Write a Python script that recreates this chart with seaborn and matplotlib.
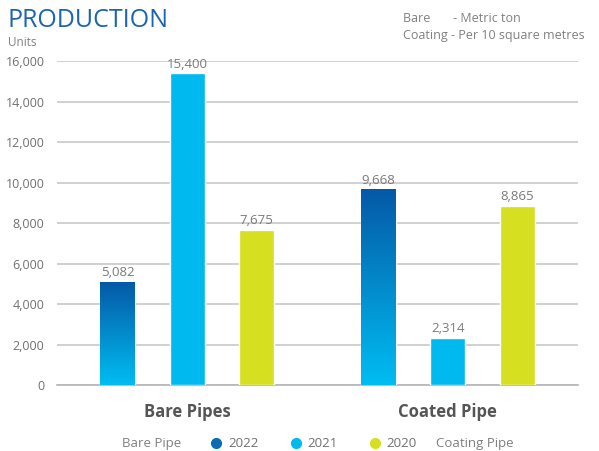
import pandas as pd
import numpy as np
import seaborn as sns
import matplotlib.pyplot as plt
from matplotlib.colors import LinearSegmentedColormap
from matplotlib.lines import Line2D
from matplotlib.ticker import FuncFormatter

products = ["Bare Pipes", "Coated Pipe"]
years = ["2022", "2021", "2020"]
bare_values = [5082, 15400, 7675]
coated_values = [9668, 2314, 8865]
year_colors = ["#0a6cb5", "#00b9ef", "#d7df21"]

df = pd.DataFrame({
    "product": [products[0]] * 3 + [products[1]] * 3,
    "year": years * 2,
    "value": bare_values + coated_values,
})

sns.set_theme(style="white")
plt.rcParams["font.family"] = ["Open Sans", "DejaVu Sans"]

fig = plt.figure(figsize=(5.99, 4.51), dpi=100)
ax = fig.add_axes([0.0952, 0.1463, 0.8698, 0.7177])

sns.barplot(data=df, x="product", y="value", hue="year", hue_order=years,
            palette=year_colors, width=0.8, gap=0.5, legend=False, ax=ax,
            saturation=1, errorbar=None, zorder=3)

# gradient fill for the 2022 bars
grad = LinearSegmentedColormap.from_list("g", ["#00bdf2", "#0559a6"])
for patch in ax.containers[0]:
    x0, w, h = patch.get_x(), patch.get_width(), patch.get_height()
    im = ax.imshow(np.linspace(0, 1, 256).reshape(-1, 1), cmap=grad, origin="lower",
                   extent=[x0, x0 + w, 0, h], aspect="auto", zorder=4)
    im.set_clip_path(patch)

for cont in ax.containers:
    ax.bar_label(cont, labels=[f"{v:,.0f}" for v in cont.datavalues], padding=2,
                 color="#7a7a7a", fontsize=9.5, zorder=5)

ax.set_xlim(-0.5, 1.5)
ax.set_ylim(0, 16000)
ax.set_yticks(range(0, 16001, 2000))
ax.yaxis.set_major_formatter(FuncFormatter(lambda v, p: f"{v:,.0f}"))
ax.yaxis.grid(True, color="#c8c8c8", linewidth=1.2, zorder=0)
ax.set_axisbelow(True)

for s in ["top", "right", "left"]:
    ax.spines[s].set_visible(False)
ax.spines["bottom"].set_color("#b5b5b5")
ax.spines["bottom"].set_linewidth(1.2)

ax.tick_params(axis="y", length=0, pad=9, labelsize=9, labelcolor="#707070")
ax.tick_params(axis="x", which="major", length=0, pad=13, labelsize=12, labelcolor="#555555")
for lbl in ax.get_xticklabels():
    lbl.set_fontweight("bold")
ax.set_xticks([-0.5, 0.5, 1.5], minor=True)
ax.tick_params(axis="x", which="minor", direction="in", length=6, width=1.2, color="#b5b5b5")
ax.set_xlabel("")
ax.set_ylabel("")

fig.text(0.012, 0.955, "PRODUCTION", color="#1c64b0", fontsize=18, va="center")
fig.text(0.014, 0.906, "Units", color="#808080", fontsize=8.5, va="center")
fig.text(0.673, 0.96, "Bare       - Metric ton", color="#808080", fontsize=9, va="center")
fig.text(0.673, 0.922, "Coating - Per 10 square metres", color="#808080", fontsize=9, va="center")

handles = [Line2D([], [], marker="o", linestyle="", markersize=7, color=c) for c in year_colors]
fig.legend(handles, years, loc="center", bbox_to_anchor=(0.523, 0.016), ncol=3, frameon=False,
           handlelength=1.0, handletextpad=0.4, columnspacing=2.3, labelcolor="#707070",
           fontsize=9.5)
fig.text(0.303, 0.016, "Bare Pipe", color="#808080", fontsize=9.5, ha="right", va="center")
fig.text(0.728, 0.016, "Coating Pipe", color="#808080", fontsize=9.5, ha="left", va="center")

fig.savefig("out.png", dpi=100)
